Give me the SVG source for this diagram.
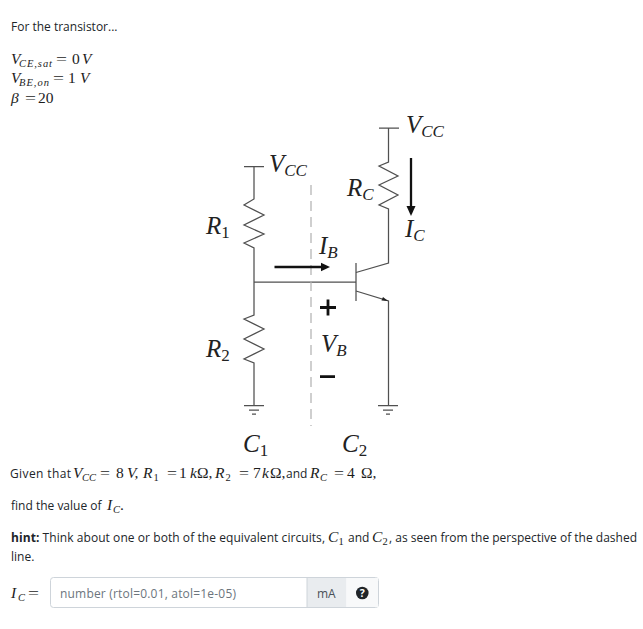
<svg xmlns="http://www.w3.org/2000/svg" width="643" height="629" viewBox="0 0 643 629">
<style>
.t{font-family:"Open Sans","Liberation Sans",sans-serif;font-size:12px;fill:#212529}
.m{font-family:"Liberation Serif",serif;font-size:15.5px;fill:#1c1c1c}
.i{font-style:italic}
.s{font-size:10.5px}
.w{fill:none;stroke:#505050;stroke-width:1.25}
.c{font-family:"Liberation Serif",serif;font-style:italic;font-size:25px;fill:#222}
.c2{font-size:17px}
.a{stroke:#111;stroke-width:2.3;fill:none}
</style>
<rect width="643" height="629" fill="#fff"/>
<g id="intro">
<text class="t" x="11" y="31">For the transistor...</text>
<text class="m i" x="11" y="63.500">V</text><text class="m i s" x="19" y="66.500" textLength="33">CE,sat</text><text class="m" x="56" y="63.500" textLength="11" lengthAdjust="spacingAndGlyphs">=</text><text class="m" x="72" y="63.500">0</text><text class="m i" x="82" y="63.500">V</text>
<text class="m i" x="11" y="83">V</text><text class="m i s" x="19" y="86" textLength="30">BE,on</text><text class="m" x="53" y="83" textLength="11" lengthAdjust="spacingAndGlyphs">=</text><text class="m" x="68" y="83">1</text><text class="m i" x="80" y="83">V</text>
<text class="m i" x="11" y="102.500">β</text><text class="m" x="25" y="102.500" textLength="11" lengthAdjust="spacingAndGlyphs">=</text><text class="m" x="38" y="102.500">20</text>
</g>
<g id="connectors">
<path class="w" d="M244,166.700H264M254,166.700V199L244,205L264,215L244,225L264,234L244,243L254,248V282"/>
<path class="w" d="M254,282H356M356,263V301"/>
<path class="w" d="M254,282V315L244,319L264,329L244,339L264,349L244,359L254,363V405.700"/>
<path class="w" d="M244,405.700H264M249,410H259M252,414H256"/>
<path class="w" d="M379,128H399M388.500,128V162L379,166L398,176L379,185L398,195L379,205L388.500,209V263L356,272.500"/>
<path class="w" d="M356,291L388.500,301V405.700"/>
<path d="M388,301L381.500,300.500L383,297z" fill="#222"/>
<path class="w" d="M378,405.700H398M383,410H393M386,414H390"/>
<path d="M311,185V426" stroke="#b0b0b0" stroke-width="1.2" stroke-dasharray="10 6" fill="none"/>
<path class="a" d="M274.500,267H323"/>
<path d="M330,267L321,262.800V271.200z" fill="#111"/>
<path class="a" d="M411,158V208"/>
<path d="M411,216L406.500,206H415.500z" fill="#111"/>
<path d="M320,307.500H336M328,299.500V315.500M320,376.700H335" stroke="#111" stroke-width="2.800" fill="none"/>
</g>
<g id="labels">
<text class="c" x="269" y="172">V<tspan class="c2" dy="4">CC</tspan></text>
<text class="c" x="406" y="133">V<tspan class="c2" dy="4">CC</tspan></text>
<text class="c" x="206" y="234">R<tspan class="c2" font-style="normal" dy="4">1</tspan></text>
<text class="c" x="206" y="357">R<tspan class="c2" font-style="normal" dy="4">2</tspan></text>
<text class="c" x="347" y="196">R<tspan class="c2" dy="4">C</tspan></text>
<text class="c" x="405" y="237">I<tspan class="c2" dy="4">C</tspan></text>
<text class="c" x="319" y="254">I<tspan class="c2" dy="4">B</tspan></text>
<text class="c" x="321" y="352">V<tspan class="c2" dy="4">B</tspan></text>
<text class="c" x="243" y="452">C<tspan class="c2" font-style="normal" dy="4">1</tspan></text>
<text class="c" x="342" y="452">C<tspan class="c2" font-style="normal" dy="4">2</tspan></text>
</g>
<g id="problem">
<text class="t" x="10" y="478" textLength="61">Given that</text>
<text class="m i" x="73" y="478">V</text><text class="m i s" x="82" y="481" textLength="14">CC</text><text class="m" x="100" y="478" textLength="10" lengthAdjust="spacingAndGlyphs">=</text><text class="m" x="116" y="478">8</text><text class="m i" x="127" y="478">V,</text>
<text class="m i" x="143" y="478">R</text><text class="m s" x="153.500" y="481">1</text><text class="m" x="167" y="478" textLength="10" lengthAdjust="spacingAndGlyphs">=</text><text class="m" x="179" y="478">1</text><text class="m i" x="190" y="478">k</text><text class="m" x="197" y="478">Ω,</text>
<text class="m i" x="215" y="478">R</text><text class="m s" x="225.500" y="481">2</text><text class="m" x="239" y="478" textLength="10" lengthAdjust="spacingAndGlyphs">=</text><text class="m" x="253" y="478">7</text><text class="m i" x="262" y="478">k</text><text class="m" x="270" y="478">Ω,</text>
<text class="t" x="286" y="478">and</text>
<text class="m i" x="310" y="478">R</text><text class="m i s" x="320" y="481">C</text><text class="m" x="334" y="478" textLength="10" lengthAdjust="spacingAndGlyphs">=</text><text class="m" x="347" y="478">4</text><text class="m" x="361" y="478">Ω,</text>
<text class="t" x="11" y="510">find the value of</text>
<text class="m i" x="107" y="510">I</text><text class="m i s" x="113" y="513">C</text><text class="m" x="120" y="510">.</text>
<text x="11" y="542" class="t" textLength="314"><tspan font-weight="700">hint:</tspan> Think about one or both of the equivalent circuits,</text>
<text class="m i" x="328" y="542">C</text><text class="m s" x="338.500" y="545">1</text><text class="t" x="348" y="542">and</text><text class="m i" x="372" y="542">C</text><text class="m s" x="382.500" y="545">2</text><text class="t" x="389" y="542">, as seen from the perspective of the dashed</text>
<text class="t" x="11" y="561">line.</text>
</g>
<g id="answer">
<text class="m i" x="11" y="598">I</text><text class="m i s" x="18" y="601">C</text><text class="m" x="28" y="598" textLength="11" lengthAdjust="spacingAndGlyphs">=</text>
<rect x="50.500" y="577.500" width="328" height="30" rx="3" fill="#fff" stroke="#ced4da"/>
<path d="M307,578H346.500V607H307z" fill="#e9ecef"/>
<path d="M346.500,578H378V607H346.500z" fill="#f8f9fa"/>
<path d="M307,578V607" stroke="#ced4da"/>
<text class="t" x="60" y="598" textLength="176" style="fill:#6c757d">number (rtol=0.01, atol=1e-05)</text>
<text class="t" x="317" y="598" style="fill:#495057">mA</text>
<circle cx="362.300" cy="593" r="6.300" fill="#212529"/>
<text x="362.300" y="597" text-anchor="middle" font-family="Open Sans" font-weight="700" font-size="10.500" fill="#fff">?</text>
</g>
</svg>
